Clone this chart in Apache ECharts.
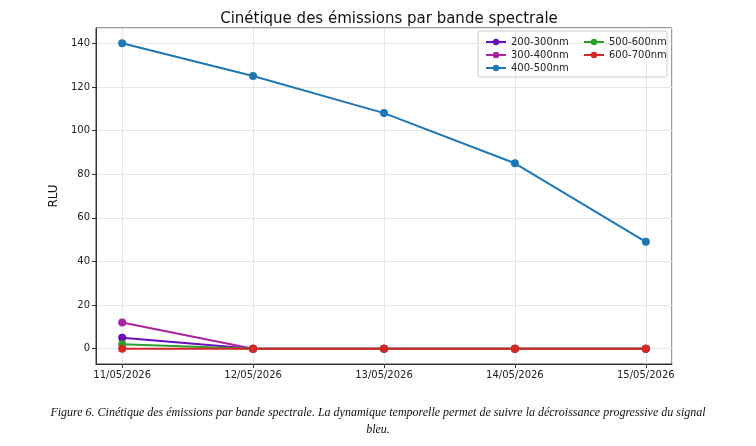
<!DOCTYPE html>
<html>
<head>
<meta charset="UTF-8">
<title>Cinétique des émissions par bande spectrale</title>
<script src="https://cdn.jsdelivr.net/npm/echarts@6/dist/echarts.min.js"></script>
<style>
  html, body { margin: 0; padding: 0; background: #fff; }
  #main { width: 756px; height: 446px; }
</style>
</head>
<body>
<div id="main"></div>
<script>
// données
var dates = ['11/05/2026', '12/05/2026', '13/05/2026', '14/05/2026', '15/05/2026'];
var bands = ['200-300nm', '300-400nm', '400-500nm', '500-600nm', '600-700nm'];
var band200 = [5, 0, 0, 0, 0];
var band300 = [12, 0, 0, 0, 0];
var band400 = [140, 125, 108, 85, 49];
var band500 = [2, 0, 0, 0, 0];
var band600 = [0, 0, 0, 0, 0];
var colors = ['#6a0dbd', '#a9239f', '#1f77b4', '#2ca02c', '#d62728'];

var allValues = [band200, band300, band400, band500, band600];

function toPoints(arr) {
    var pts = [];
    for (var i = 0; i < arr.length; i++) {
        pts.push([i, arr[i]]);
    }
    return pts;
}

var series = [];
for (var k = 0; k < bands.length; k++) {
    series.push({
        name: bands[k],
        type: 'line',
        data: toPoints(allValues[k]),
        symbol: 'circle',
        symbolSize: 8,
        showSymbol: true,
        lineStyle: { width: 2, color: colors[k] },
        itemStyle: { color: colors[k] },
        emphasis: { disabled: true },
        z: 2 + k
    });
}

var legendText = { fontFamily: 'DejaVu Sans', fontSize: 10, color: '#222' };

var myChart = echarts.init(document.getElementById('main'));
var option = {
    animation: false,
    title: {
        text: 'Cinétique des émissions par bande spectrale',
        left: 384,
        top: 7,
        textAlign: 'center',
        textStyle: { fontFamily: 'DejaVu Sans', fontSize: 15, fontWeight: 'normal', color: '#111' }
    },
    legend: [
        {
            data: bands.slice(0, 3),
            orient: 'vertical',
            left: 480,
            top: 32,
            itemWidth: 20,
            itemHeight: 8,
            itemGap: 3,
            textStyle: legendText
        },
        {
            data: bands.slice(3),
            orient: 'vertical',
            left: 578,
            top: 32,
            itemWidth: 20,
            itemHeight: 8,
            itemGap: 3,
            textStyle: legendText
        }
    ],
    grid: {
        left: 96,
        right: 84,
        top: 28,
        bottom: 82,
        show: true,
        borderColor: '#333',
        borderWidth: 1,
        backgroundColor: 'transparent'
    },
    xAxis: {
        type: 'value',
        min: -0.2,
        max: 4.2,
        splitNumber: 5,
        axisLine: { show: true, onZero: false, lineStyle: { color: '#333' } },
        axisTick: { show: true, length: 4, lineStyle: { color: '#333' } },
        axisLabel: {
            showMinLabel: false,
            showMaxLabel: false,
            margin: 6,
            fontFamily: 'DejaVu Sans',
            fontSize: 10,
            color: '#222',
            formatter: function (v) {
                return Math.abs(v - Math.round(v)) < 1e-6 ? (dates[Math.round(v)] || '') : '';
            }
        },
        splitLine: { show: true, lineStyle: { color: '#e6e6e6', width: 1 } }
    },
    yAxis: {
        type: 'value',
        min: -7,
        max: 147,
        splitNumber: 7,
        name: 'RLU',
        nameLocation: 'middle',
        nameGap: 32,
        nameRotate: 90,
        nameTextStyle: { fontFamily: 'DejaVu Sans', fontSize: 12, color: '#111' },
        axisLine: { show: true, onZero: false, lineStyle: { color: '#333' } },
        axisTick: { show: true, length: 4, lineStyle: { color: '#333' } },
        axisLabel: {
            showMinLabel: false,
            showMaxLabel: false,
            margin: 6,
            fontFamily: 'DejaVu Sans',
            fontSize: 10,
            color: '#222'
        },
        splitLine: { show: true, lineStyle: { color: '#e6e6e6', width: 1 } }
    },
    graphic: [
        {
            type: 'rect',
            shape: { x: 478, y: 31, width: 189, height: 46, r: 2 },
            style: { fill: 'rgba(255,255,255,0.8)', stroke: '#cccccc', lineWidth: 1 },
            z: 0,
            zlevel: 0
        },
        {
            type: 'text',
            x: 378,
            y: 404,
            style: {
                text: 'Figure 6. Cinétique des émissions par bande spectrale. La dynamique temporelle permet de suivre la décroissance progressive du signal\nbleu.',
                fontFamily: 'Liberation Serif',
                fontStyle: 'italic',
                fontSize: 12,
                lineHeight: 17,
                align: 'center',
                fill: '#111'
            }
        }
    ],
    series: series
};
myChart.setOption(option);
</script>
</body>
</html>
